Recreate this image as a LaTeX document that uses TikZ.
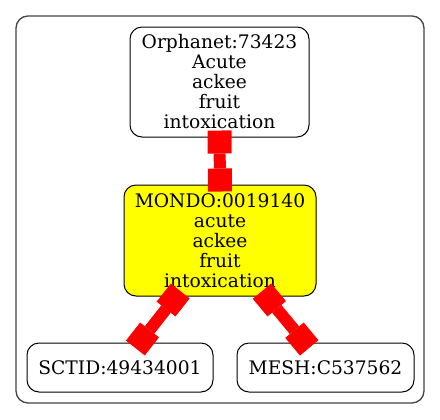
\documentclass[tikz,border=0pt]{standalone}
\usepackage{fontspec}
\setmainfont{DejaVu Serif}
\usetikzlibrary{arrows.meta}
\definecolor{clustergray}{HTML}{444444}
\definecolor{pureyellow}{RGB}{255,255,0}
\definecolor{purered}{RGB}{255,0,0}
\tikzset{
  sqtip/.tip={Square[length=17.25pt 0 0, width=18pt 0 0, line width=0pt]},
  termbox/.style={draw=black, line width=0.75pt, rectangle, rounded corners=9pt,
    inner sep=0pt, align=center, font=\fontsize{14}{15}\selectfont},
  mainbox/.style={termbox, fill=pureyellow},
  cluster/.style={draw=clustergray, line width=1pt, rounded corners=9pt},
  link/.style={draw=purered, line width=9pt, sqtip-sqtip,
    shorten <=-5.25pt, shorten >=-5.25pt}
}
\begin{document}
\begin{tikzpicture}[x=0.75pt, y=-0.75pt]
\useasboundingbox (0,0) rectangle (440,419);
\draw[cluster] (16,16) rectangle (424,403);
\node[termbox, minimum width=134.25pt, minimum height=82.5pt] (orph) at (219.5,82)
  {Orphanet:73423\\Acute\\ackee\\fruit\\intoxication};
\node[mainbox, minimum width=144pt, minimum height=83.25pt] (mondo) at (220,240.5)
  {MONDO:0019140\\acute\\ackee\\fruit\\intoxication};
\node[termbox, minimum width=139.5pt, minimum height=36.75pt] (sctid) at (120,367.5)
  {SCTID:49434001};
\node[termbox, minimum width=132.75pt, minimum height=36.75pt] (mesh) at (325.5,367.5)
  {MESH:C537562};
\draw[link] (orph) -- (mondo);
\draw[link] (mondo) -- (sctid);
\draw[link] (mondo) -- (mesh);
\end{tikzpicture}
\end{document}
